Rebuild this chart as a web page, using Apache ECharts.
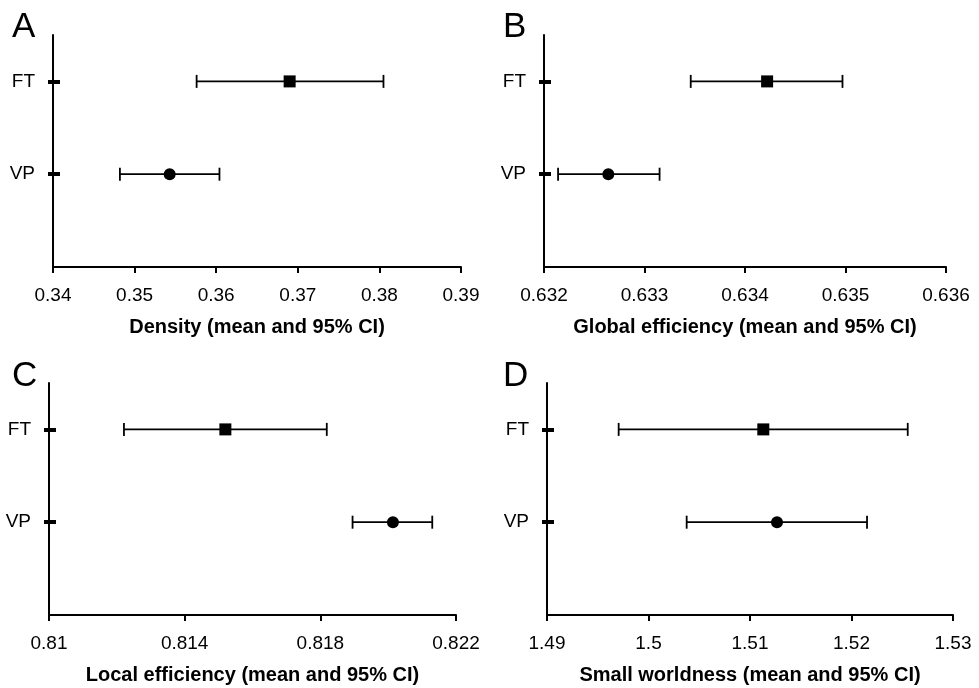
<!DOCTYPE html>
<html>
<head>
<meta charset="utf-8">
<script src="https://cdn.jsdelivr.net/npm/echarts@6/dist/echarts.min.js"></script>
<style>html,body{margin:0;padding:0;background:#fff}#c{width:979px;height:688px}</style>
</head>
<body>
<div id="c"></div>
<script>
// Groups (y position 1 = VP, 2 = FT)
const groups = ['VP', 'FT'];
const groupPos = [1, 2];

// Panel A: Density
const densityLow  = [0.3482, 0.3576];
const densityMean = [0.3543, 0.3690];
const densityHigh = [0.3604, 0.3805];
const densityTicks = [0.34, 0.35, 0.36, 0.37, 0.38, 0.39];

// Panel B: Global efficiency
const globalLow  = [0.63214, 0.63346];
const globalMean = [0.63264, 0.63422];
const globalHigh = [0.63315, 0.63497];
const globalTicks = [0.632, 0.633, 0.634, 0.635, 0.636];

// Panel C: Local efficiency
const localLow  = [0.81895, 0.81221];
const localMean = [0.82014, 0.81520];
const localHigh = [0.82130, 0.81819];
const localTicks = [0.81, 0.814, 0.818, 0.822];

// Panel D: Small worldness
const swLow  = [1.50376, 1.49706];
const swMean = [1.51266, 1.51131];
const swHigh = [1.52153, 1.52554];
const swTicks = [1.49, 1.5, 1.51, 1.52, 1.53];

const panels = [
  {letter: 'A', name: 'Density (mean and 95% CI)', low: densityLow, mean: densityMean, high: densityHigh, ticks: densityTicks,
   grid: {left: 53, top: 35, width: 408, height: 232}, letterPos: {left: 12, top: 10}},
  {letter: 'B', name: 'Global efficiency (mean and 95% CI)', low: globalLow, mean: globalMean, high: globalHigh, ticks: globalTicks,
   grid: {left: 544, top: 35, width: 402, height: 232}, letterPos: {left: 503, top: 10}},
  {letter: 'C', name: 'Local efficiency (mean and 95% CI)', low: localLow, mean: localMean, high: localHigh, ticks: localTicks,
   grid: {left: 49, top: 383, width: 407, height: 232}, letterPos: {left: 12, top: 359}},
  {letter: 'D', name: 'Small worldness (mean and 95% CI)', low: swLow, mean: swMean, high: swHigh, ticks: swTicks,
   grid: {left: 547, top: 383, width: 406, height: 232}, letterPos: {left: 503, top: 359}}
];

const FONT = "'Liberation Sans', Arial, Helvetica, sans-serif";
const option = {
  backgroundColor: '#fff',
  animation: false,
  textStyle: {fontFamily: FONT},
  title: [], grid: [], xAxis: [], yAxis: [], series: []
};

panels.forEach((p, i) => {
  option.title.push({text: p.letter, left: p.letterPos.left, top: p.letterPos.top, padding: 0,
    textStyle: {fontFamily: FONT, fontSize: 35, fontWeight: 'normal', color: '#000'}});
  option.grid.push(Object.assign({containLabel: false}, p.grid));
  const tmin = p.ticks[0], tmax = p.ticks[p.ticks.length - 1];
  option.xAxis.push({
    type: 'value', gridIndex: i, min: tmin, max: tmax, position: 'bottom',
    name: p.name, nameLocation: 'middle', nameGap: 50,
    nameTextStyle: {fontFamily: FONT, fontSize: 20, fontWeight: 'bold', color: '#000'},
    axisLine: {show: true, lineStyle: {color: '#000', width: 2}},
    axisTick: {show: true, length: 6, lineStyle: {color: '#000', width: 2}, customValues: p.ticks},
    axisLabel: {show: true, margin: 19, fontSize: 19, color: '#000', fontFamily: FONT, customValues: p.ticks},
    splitLine: {show: false}
  });
  // main y axis (line, labels, outside tick part)
  option.yAxis.push({
    type: 'value', gridIndex: i, min: 0, max: 2.5, position: 'left',
    axisLine: {show: true, onZero: false, lineStyle: {color: '#000', width: 2}},
    axisTick: {show: true, length: 5, lineStyle: {color: '#000', width: 4}, customValues: groupPos},
    axisLabel: {show: true, margin: 18, fontSize: 19, color: '#000', fontFamily: FONT, customValues: groupPos,
      formatter: v => groups[groupPos.indexOf(Math.round(v))] || ''},
    splitLine: {show: false}
  });
  // overlay y axis (inside tick part), same position
  option.yAxis.push({
    type: 'value', gridIndex: i, min: 0, max: 2.5, position: 'left', offset: 0,
    axisLine: {show: false, onZero: false},
    axisTick: {show: true, inside: true, length: 7, lineStyle: {color: '#000', width: 4}, customValues: groupPos},
    axisLabel: {show: false},
    splitLine: {show: false}
  });
  const yIdx = i * 2;
  option.series.push({
    type: 'custom', xAxisIndex: i, yAxisIndex: yIdx,
    data: groups.map((g, k) => [p.low[k], p.high[k], groupPos[k]]),
    encode: {x: [0, 1], y: 2},
    renderItem: (params, api) => {
      const a = api.coord([api.value(0), api.value(2)]);
      const b = api.coord([api.value(1), api.value(2)]);
      const h = 6.5;
      const st = {stroke: '#000', lineWidth: 1.8};
      return {type: 'group', children: [
        {type: 'line', shape: {x1: a[0], y1: a[1], x2: b[0], y2: b[1]}, style: st},
        {type: 'line', shape: {x1: a[0], y1: a[1] - h, x2: a[0], y2: a[1] + h}, style: st},
        {type: 'line', shape: {x1: b[0], y1: b[1] - h, x2: b[0], y2: b[1] + h}, style: st}
      ]};
    },
    z: 2
  });
  option.series.push({
    type: 'scatter', xAxisIndex: i, yAxisIndex: yIdx,
    data: groups.map((g, k) => ({value: [p.mean[k], groupPos[k]], symbol: g === 'FT' ? 'rect' : 'circle',
      symbolSize: 12})),
    itemStyle: {color: '#000', opacity: 1},
    z: 3
  });
});

const chart = echarts.init(document.getElementById('c'));
chart.setOption(option);
</script>
</body>
</html>
